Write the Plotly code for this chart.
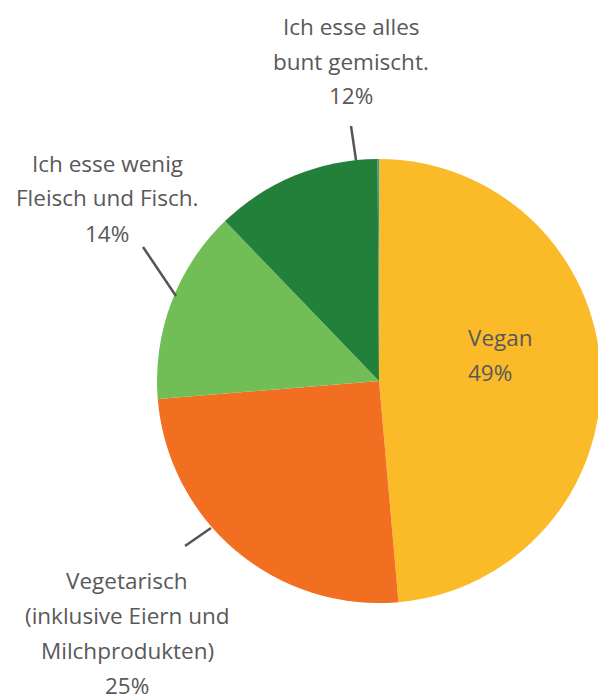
import plotly.graph_objects as go

W, H = 604, 695  # layout slightly wider than the 598 viewport: the pie is cut at the right edge

# Data
categories = ["Vegan", "Vegetarisch (inklusive Eiern und Milchprodukten)",
              "Ich esse wenig Fleisch und Fisch.", "Ich esse alles bunt gemischt.", "Sonstiges"]
values = [48.6, 25.1, 14.1, 12.1, 0.1]
colors = ["#FBBA28", "#F26F22", "#71BE56", "#22803B", "#2E9DB4"]

# label lines (text) per slice
label_lines = {
    "Vegan": ["Vegan", "49%"],
    "Vegetarisch": ["Vegetarisch", "(inklusive Eiern und", "Milchprodukten)", "25%"],
    "wenig": ["Ich esse wenig", "Fleisch und Fisch.", "14%"],
    "alles": ["Ich esse alles", "bunt gemischt.", "12%"],
}

TEXT = "#595959"
FONT = "Open Sans"
FS = 22.5

def px(x):
    return x / W

def py(y):
    return 1 - y / H

cx, cy, r = 379, 381, 222

fig = go.Figure(go.Pie(
    labels=categories, values=values, sort=False, direction="clockwise",
    rotation=0, marker=dict(colors=colors, line=dict(width=0)),
    textinfo="none", hoverinfo="label+percent", showlegend=False,
    domain=dict(x=[px(cx - r), px(cx + r)], y=[py(cy + r), py(cy - r)]),
))

annotations = []

def add_lines(lines, x, y0, dy, xanchor="center"):
    for i, t in enumerate(lines):
        annotations.append(dict(
            text=t, x=px(x), y=py(y0 + i * dy), xref="paper", yref="paper",
            showarrow=False, xanchor=xanchor, yanchor="middle",
            font=dict(family=FONT, size=FS, color=TEXT)))

add_lines(label_lines["alles"], 351, 26, 35)
add_lines(label_lines["wenig"], 107, 163, 35)
add_lines(label_lines["Vegetarisch"], 127, 580, 35)
add_lines(label_lines["Vegan"], 466, 337, 36, xanchor="left")

shapes = []
for (x0, y0, x1, y1) in [(351, 126, 356, 160), (143, 247, 176, 296), (185, 546, 211, 528)]:
    shapes.append(dict(type="line", xref="paper", yref="paper",
                       x0=px(x0), y0=py(y0), x1=px(x1), y1=py(y1),
                       line=dict(color="#555555", width=2.5)))

fig.update_layout(
    width=W, height=H, margin=dict(l=0, r=0, t=0, b=0),
    paper_bgcolor="white", plot_bgcolor="white",
    annotations=annotations, shapes=shapes,
)

fig.write_html("out.html", config={"displayModeBar": False},
               post_script="document.body.style.margin='0';document.body.style.overflow='hidden';")
